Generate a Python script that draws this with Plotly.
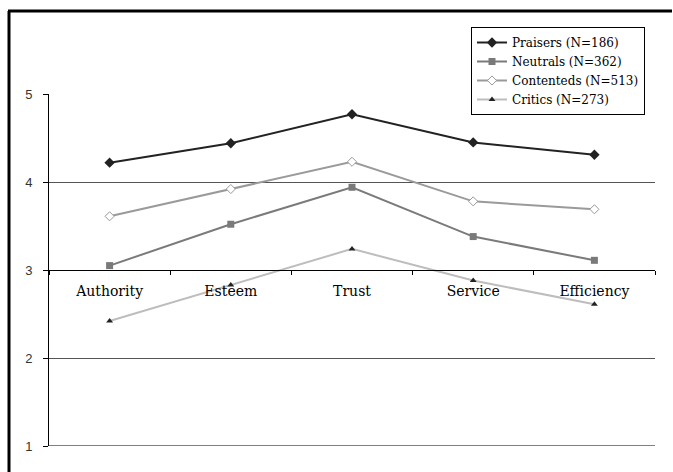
import plotly.graph_objects as go

# Mean scores per dimension for each respondent group
categories = ["Authority", "Esteem", "Trust", "Service", "Efficiency"]
praisers = [4.22, 4.44, 4.77, 4.45, 4.31]
neutrals = [3.05, 3.52, 3.94, 3.38, 3.11]
contenteds = [3.61, 3.92, 4.23, 3.78, 3.69]
critics = [2.42, 2.83, 3.24, 2.88, 2.61]
series_names = ["Praisers (N=186)", "Neutrals (N=362)", "Contenteds (N=513)", "Critics (N=273)"]
y_ticks = [1, 2, 3, 4, 5]

W, H = 673, 472
ML, MR, MT, MB = 49, 18, 94, 26
PW, PH = W - ML - MR, H - MT - MB


def px_x(p):
    return (p - ML) / PW


def px_y(p):
    return (H - MB - p) / PH


serif = "DejaVu Serif"
sans = "Liberation Sans"

styles = [
    dict(line=dict(color="#222222", width=2),
         marker=dict(symbol="diamond", size=8, color="#222222")),
    dict(line=dict(color="#7a7a7a", width=2),
         marker=dict(symbol="square", size=7, color="#7a7a7a")),
    dict(line=dict(color="#9a9a9a", width=2),
         marker=dict(symbol="diamond", size=7, color="white",
                     line=dict(color="#9a9a9a", width=1))),
    dict(line=dict(color="#bdbdbd", width=2),
         marker=dict(symbol="triangle-up", size=6, color="#222222")),
]

fig = go.Figure()
for name, vals, st in zip(series_names, [praisers, neutrals, contenteds, critics], styles):
    fig.add_trace(go.Scatter(x=categories, y=vals, name=name, mode="lines+markers",
                             line=st["line"], marker=st["marker"]))

fig.update_layout(
    width=W, height=H,
    margin=dict(l=ML, r=MR, t=MT, b=MB, pad=0),
    paper_bgcolor="white", plot_bgcolor="white",
    showlegend=True,
    legend=dict(
        x=px_x(471), y=px_y(27), xanchor="left", yanchor="top",
        bgcolor="white", bordercolor="black", borderwidth=1,
        font=dict(family=serif, size=12, color="black"),
        tracegroupgap=0,
    ),
    xaxis=dict(
        type="category", range=[-0.5, 4.5],
        anchor="free", position=0.5,
        showline=True, linecolor="black", linewidth=1,
        ticks="outside", ticklen=4, tickcolor="black", tickwidth=1,
        tickson="boundaries",
        tickfont=dict(family=serif, size=14, color="black"),
        ticklabelstandoff=8,
        showgrid=False, zeroline=False,
    ),
    yaxis=dict(
        range=[1, 5], tickvals=y_ticks,
        showline=True, linecolor="black", linewidth=1,
        ticks="outside", ticklen=5, tickcolor="black", tickwidth=1,
        showgrid=True, gridcolor="#555555", gridwidth=1,
        tickfont=dict(family=sans, size=13, color="#333333"),
        ticklabelstandoff=8,
        zeroline=False,
    ),
)

# Bottom edge of the plot area
fig.add_shape(type="line", xref="paper", yref="y", x0=0, x1=1, y0=1, y1=1,
              line=dict(color="#808080", width=2))

# Outer frame: left and top edges
fig.add_shape(type="line", xref="paper", yref="paper",
              x0=px_x(9), x1=px_x(9), y0=px_y(11), y1=px_y(H + 2),
              line=dict(color="black", width=3))
fig.add_shape(type="line", xref="paper", yref="paper",
              x0=px_x(8), x1=px_x(W - 1), y0=px_y(11), y1=px_y(11),
              line=dict(color="black", width=3))

fig.write_html("out.html")
